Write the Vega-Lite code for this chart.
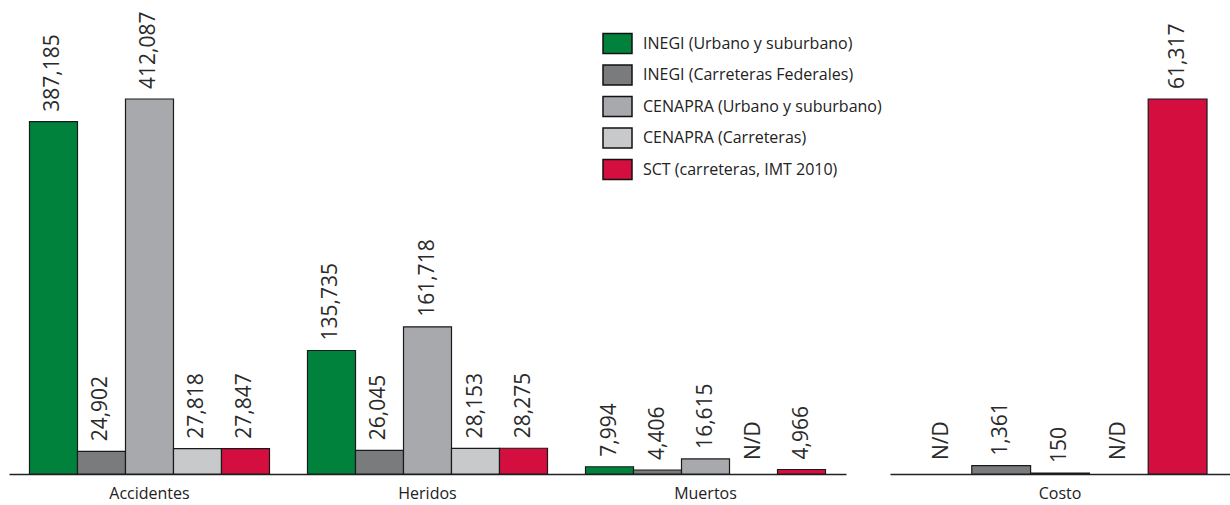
{
  "$schema": "https://vega.github.io/schema/vega-lite/v6.json",
  "background": "white",
  "padding": {"left": 9, "top": 0, "right": 0, "bottom": 3},
  "spacing": 44,
  "bounds": "flush",
  "config": {"view": {"stroke": null}},
  "data": {
    "values": [
      {"group": "Accidentes", "series": "INEGI (Urbano y suburbano)", "value": 387185},
      {"group": "Accidentes", "series": "INEGI (Carreteras Federales)", "value": 24902},
      {"group": "Accidentes", "series": "CENAPRA (Urbano y suburbano)", "value": 412087},
      {"group": "Accidentes", "series": "CENAPRA (Carreteras)", "value": 27818},
      {"group": "Accidentes", "series": "SCT (carreteras, IMT 2010)", "value": 27847},
      {"group": "Heridos", "series": "INEGI (Urbano y suburbano)", "value": 135735},
      {"group": "Heridos", "series": "INEGI (Carreteras Federales)", "value": 26045},
      {"group": "Heridos", "series": "CENAPRA (Urbano y suburbano)", "value": 161718},
      {"group": "Heridos", "series": "CENAPRA (Carreteras)", "value": 28153},
      {"group": "Heridos", "series": "SCT (carreteras, IMT 2010)", "value": 28275},
      {"group": "Muertos", "series": "INEGI (Urbano y suburbano)", "value": 7994},
      {"group": "Muertos", "series": "INEGI (Carreteras Federales)", "value": 4406},
      {"group": "Muertos", "series": "CENAPRA (Urbano y suburbano)", "value": 16615},
      {"group": "Muertos", "series": "CENAPRA (Carreteras)", "value": null},
      {"group": "Muertos", "series": "SCT (carreteras, IMT 2010)", "value": 4966},
      {"group": "Costo", "series": "INEGI (Urbano y suburbano)", "value": null},
      {"group": "Costo", "series": "INEGI (Carreteras Federales)", "value": 1361},
      {"group": "Costo", "series": "CENAPRA (Urbano y suburbano)", "value": 150},
      {"group": "Costo", "series": "CENAPRA (Carreteras)", "value": null},
      {"group": "Costo", "series": "SCT (carreteras, IMT 2010)", "value": 61317}
    ]
  },
  "resolve": {
    "scale": {"x": "independent", "xOffset": "independent", "y": "independent", "color": "independent"},
    "legend": {"color": "independent"}
  },
  "hconcat": [
    {
      "width": 837,
      "height": 474,
      "transform": [{"filter": "datum.group !== 'Costo'"}],
      "encoding": {
        "x": {
          "field": "group", "type": "nominal", "sort": ["Accidentes", "Heridos", "Muertos"],
          "scale": {"paddingInner": 0.1367, "paddingOuter": 0.0737},
          "axis": {"title": null, "ticks": false, "labelAngle": 0, "labelFont": "Open Sans", "labelFontSize": 16, "labelColor": "#222", "labelPadding": 11, "domainColor": "#222", "domainWidth": 1.5, "grid": false}
        },
        "xOffset": {
          "field": "series", "type": "nominal",
          "scale": {"domain": ["INEGI (Urbano y suburbano)", "INEGI (Carreteras Federales)", "CENAPRA (Urbano y suburbano)", "CENAPRA (Carreteras)", "SCT (carreteras, IMT 2010)"], "paddingInner": 0, "paddingOuter": 0}
        }
      },
      "layer": [
        {
          "mark": {"type": "bar", "stroke": "#1a1a1a", "strokeWidth": 1.2},
          "encoding": {
            "y": {"field": "value", "type": "quantitative", "scale": {"domain": [0, 520878], "nice": false, "zero": true}, "axis": null},
            "color": {
              "field": "series", "type": "nominal",
              "scale": {"domain": ["INEGI (Urbano y suburbano)", "INEGI (Carreteras Federales)", "CENAPRA (Urbano y suburbano)", "CENAPRA (Carreteras)", "SCT (carreteras, IMT 2010)"],
                        "range": ["#00823d", "#7a7b7d", "#a7a9ac", "#c8c9cb", "#d40f40"]},
              "legend": {
                "orient": "none", "legendX": 593, "legendY": 28, "title": null, "padding": 0,
                "symbolType": "M-1,-0.69L1,-0.69L1,0.69L-1,0.69Z", "symbolSize": 841,
                "symbolStrokeColor": "#111", "symbolStrokeWidth": 1.5, "symbolOpacity": 1,
                "labelFont": "Open Sans", "labelFontSize": 16, "labelColor": "#222", "labelOffset": 10,
                "rowPadding": 2.5, "labelLimit": 400
              }
            }
          }
        },
        {
          "mark": {"type": "text", "angle": 270, "align": "left", "baseline": "middle", "dx": 10, "font": "Open Sans", "fontSize": 21, "color": "#2a2a2a"},
          "encoding": {
            "y": {"field": "value", "type": "quantitative", "scale": {"domain": [0, 520878], "nice": false, "zero": true}, "axis": null},
            "text": {"field": "value", "type": "quantitative", "format": ",d"}
          }
        },
        {
          "transform": [{"filter": "datum.value === null"}],
          "mark": {"type": "text", "angle": 270, "align": "left", "baseline": "middle", "dx": 14, "font": "Open Sans", "fontSize": 21, "color": "#2a2a2a"},
          "encoding": {
            "y": {"datum": 0},
            "text": {"value": "N/D"}
          }
        }
      ]
    },
    {
      "width": 340,
      "height": 474,
      "transform": [{"filter": "datum.group === 'Costo'"}],
      "encoding": {
        "x": {
          "field": "group", "type": "nominal",
          "scale": {"paddingInner": 0, "paddingOuter": 0.0782},
          "axis": {"title": null, "ticks": false, "labelAngle": 0, "labelFont": "Open Sans", "labelFontSize": 16, "labelColor": "#222", "labelPadding": 11, "domainColor": "#222", "domainWidth": 1.5, "grid": false}
        },
        "xOffset": {
          "field": "series", "type": "nominal",
          "scale": {"domain": ["INEGI (Urbano y suburbano)", "INEGI (Carreteras Federales)", "CENAPRA (Urbano y suburbano)", "CENAPRA (Carreteras)", "SCT (carreteras, IMT 2010)"], "paddingInner": 0, "paddingOuter": 0}
        }
      },
      "layer": [
        {
          "mark": {"type": "bar", "stroke": "#1a1a1a", "strokeWidth": 1.2},
          "encoding": {
            "y": {"field": "value", "type": "quantitative", "scale": {"domain": [0, 77505], "nice": false, "zero": true}, "axis": null},
            "color": {
              "field": "series", "type": "nominal",
              "scale": {"domain": ["INEGI (Urbano y suburbano)", "INEGI (Carreteras Federales)", "CENAPRA (Urbano y suburbano)", "CENAPRA (Carreteras)", "SCT (carreteras, IMT 2010)"],
                        "range": ["#00823d", "#7a7b7d", "#a7a9ac", "#c8c9cb", "#d40f40"]},
              "legend": null
            }
          }
        },
        {
          "mark": {"type": "text", "angle": 270, "align": "left", "baseline": "middle", "dx": 10, "font": "Open Sans", "fontSize": 21, "color": "#2a2a2a"},
          "encoding": {
            "y": {"field": "value", "type": "quantitative", "scale": {"domain": [0, 77505], "nice": false, "zero": true}, "axis": null},
            "text": {"field": "value", "type": "quantitative", "format": ",d"}
          }
        },
        {
          "transform": [{"filter": "datum.value === null"}],
          "mark": {"type": "text", "angle": 270, "align": "left", "baseline": "middle", "dx": 14, "font": "Open Sans", "fontSize": 21, "color": "#2a2a2a"},
          "encoding": {
            "y": {"datum": 0},
            "text": {"value": "N/D"}
          }
        }
      ]
    }
  ]
}
